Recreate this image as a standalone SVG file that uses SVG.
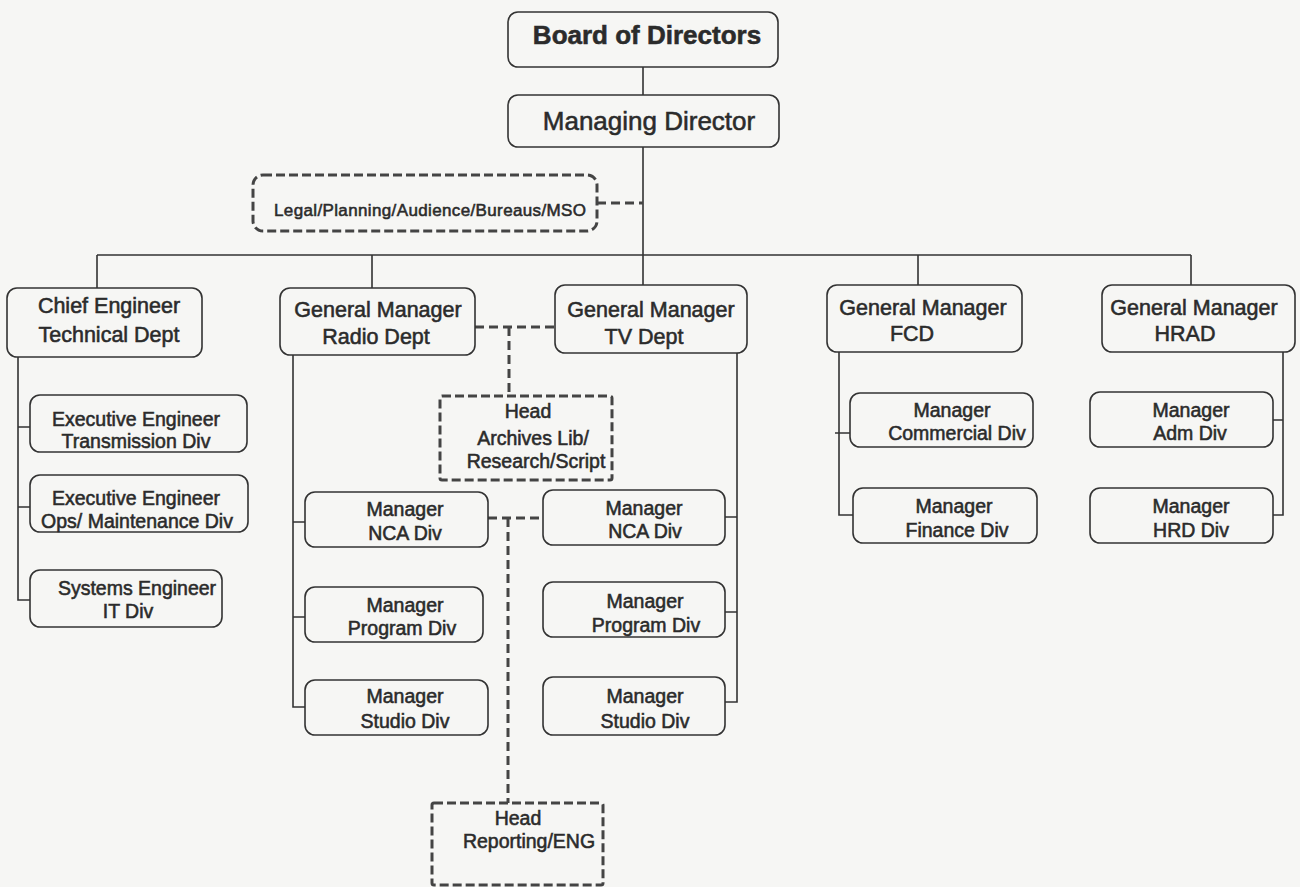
<svg xmlns="http://www.w3.org/2000/svg" width="1300" height="887" viewBox="0 0 1300 887">
<style>
.bx{fill:none;stroke:#333;stroke-width:1.6}
.db{fill:none;stroke:#444;stroke-width:3;stroke-dasharray:9 4}
.ln{fill:none;stroke:#333;stroke-width:1.6}
.dl{fill:none;stroke:#444;stroke-width:3;stroke-dasharray:9 5}
text{font-family:"Liberation Sans",Arial,sans-serif;fill:#2b2b2b;stroke:#2b2b2b;stroke-width:0.55;text-anchor:middle}
.t1{font-size:26px}
.t2{font-size:21.5px}
.t3{font-size:19.5px}
.t4{font-size:17px}
</style>
<rect width="1300" height="887" fill="#f6f6f4"/>
<g id="connectors">
<path class="ln" d="M643 67V95M643 147V285M97 255H1191M97 255V288M372 255V288M918 255V285M1191 255V285"/>
<path class="ln" d="M18 357V600H30M18 427H30M18 507H30"/>
<path class="ln" d="M293 355V707H305M293 522H305M293 617H305"/>
<path class="ln" d="M737 353V702H725M737 517H725M737 612H725"/>
<path class="ln" d="M839 352V515H853M835 433H850"/>
<path class="ln" d="M1283 352V515H1273M1283 420H1273"/>
<path class="dl" d="M597 203H643"/>
<path class="dl" d="M475 327H555M509 327V396"/>
<path class="dl" d="M488 518H543M508 518V803"/>
</g>
<g id="board"><rect class="bx" x="508" y="12" width="270" height="55" rx="10"/><text class="t1" x="647" y="44" font-weight="bold">Board of Directors</text></g>
<g id="md"><rect class="bx" x="508" y="95" width="271" height="52" rx="10"/><text class="t1" x="649" y="130">Managing Director</text></g>
<g id="legal"><rect class="db" x="253" y="175" width="344" height="56" rx="10"/><text class="t4" x="430" y="216" textLength="312">Legal/Planning/Audience/Bureaus/MSO</text></g>
<g id="chief"><rect class="bx" x="7" y="288" width="195" height="69" rx="10"/><text class="t2" x="109" y="313">Chief Engineer</text><text class="t2" x="109" y="342">Technical Dept</text></g>
<g id="radio"><rect class="bx" x="280" y="288" width="195" height="67" rx="10"/><text class="t2" x="378" y="317">General Manager</text><text class="t2" x="376" y="344">Radio Dept</text></g>
<g id="tv"><rect class="bx" x="555" y="285" width="192" height="68" rx="10"/><text class="t2" x="651" y="317">General Manager</text><text class="t2" x="644" y="344">TV Dept</text></g>
<g id="fcd"><rect class="bx" x="827" y="285" width="195" height="67" rx="10"/><text class="t2" x="923" y="315">General Manager</text><text class="t2" x="912" y="341">FCD</text></g>
<g id="hrad"><rect class="bx" x="1102" y="285" width="193" height="67" rx="10"/><text class="t2" x="1194" y="315">General Manager</text><text class="t2" x="1185" y="341">HRAD</text></g>
<g id="transmission"><rect class="bx" x="30" y="395" width="217" height="57" rx="10"/><text class="t3" x="136" y="426">Executive Engineer</text><text class="t3" x="136" y="448">Transmission Div</text></g>
<g id="ops"><rect class="bx" x="30" y="475" width="218" height="57" rx="10"/><text class="t3" x="136" y="505">Executive Engineer</text><text class="t3" x="137" y="528">Ops/ Maintenance Div</text></g>
<g id="systems"><rect class="bx" x="30" y="570" width="192" height="57" rx="10"/><text class="t3" x="137" y="595">Systems Engineer</text><text class="t3" x="128" y="618">IT Div</text></g>
<g id="radio-nca"><rect class="bx" x="305" y="492" width="183" height="55" rx="10"/><text class="t3" x="405" y="516">Manager</text><text class="t3" x="405" y="540">NCA Div</text></g>
<g id="radio-program"><rect class="bx" x="305" y="587" width="178" height="55" rx="10"/><text class="t3" x="405" y="612">Manager</text><text class="t3" x="402" y="635">Program Div</text></g>
<g id="radio-studio"><rect class="bx" x="305" y="680" width="183" height="55" rx="10"/><text class="t3" x="405" y="703">Manager</text><text class="t3" x="405" y="728">Studio Div</text></g>
<g id="tv-nca"><rect class="bx" x="543" y="490" width="182" height="55" rx="10"/><text class="t3" x="644" y="515">Manager</text><text class="t3" x="645" y="538">NCA Div</text></g>
<g id="tv-program"><rect class="bx" x="543" y="582" width="182" height="55" rx="10"/><text class="t3" x="645" y="608">Manager</text><text class="t3" x="646" y="632">Program Div</text></g>
<g id="tv-studio"><rect class="bx" x="543" y="677" width="182" height="58" rx="10"/><text class="t3" x="645" y="703">Manager</text><text class="t3" x="645" y="728">Studio Div</text></g>
<g id="commercial"><rect class="bx" x="850" y="393" width="183" height="54" rx="10"/><text class="t3" x="952" y="417">Manager</text><text class="t3" x="957" y="440">Commercial Div</text></g>
<g id="finance"><rect class="bx" x="853" y="488" width="184" height="55" rx="10"/><text class="t3" x="954" y="513">Manager</text><text class="t3" x="957" y="537">Finance Div</text></g>
<g id="adm"><rect class="bx" x="1090" y="392" width="183" height="55" rx="10"/><text class="t3" x="1191" y="417">Manager</text><text class="t3" x="1190" y="440">Adm Div</text></g>
<g id="hrd"><rect class="bx" x="1090" y="488" width="183" height="55" rx="10"/><text class="t3" x="1191" y="513">Manager</text><text class="t3" x="1191" y="537">HRD Div</text></g>
<g id="archives"><rect class="db" x="440" y="396" width="172" height="84" rx="2"/><text class="t3" x="528" y="418">Head</text><text class="t3" x="533" y="445">Archives Lib/</text><text class="t3" x="536" y="468">Research/Script</text></g>
<g id="reporting"><rect class="db" x="432" y="803" width="171" height="82" rx="2"/><text class="t3" x="518" y="825">Head</text><text class="t3" x="529" y="848">Reporting/ENG</text></g>
</svg>
